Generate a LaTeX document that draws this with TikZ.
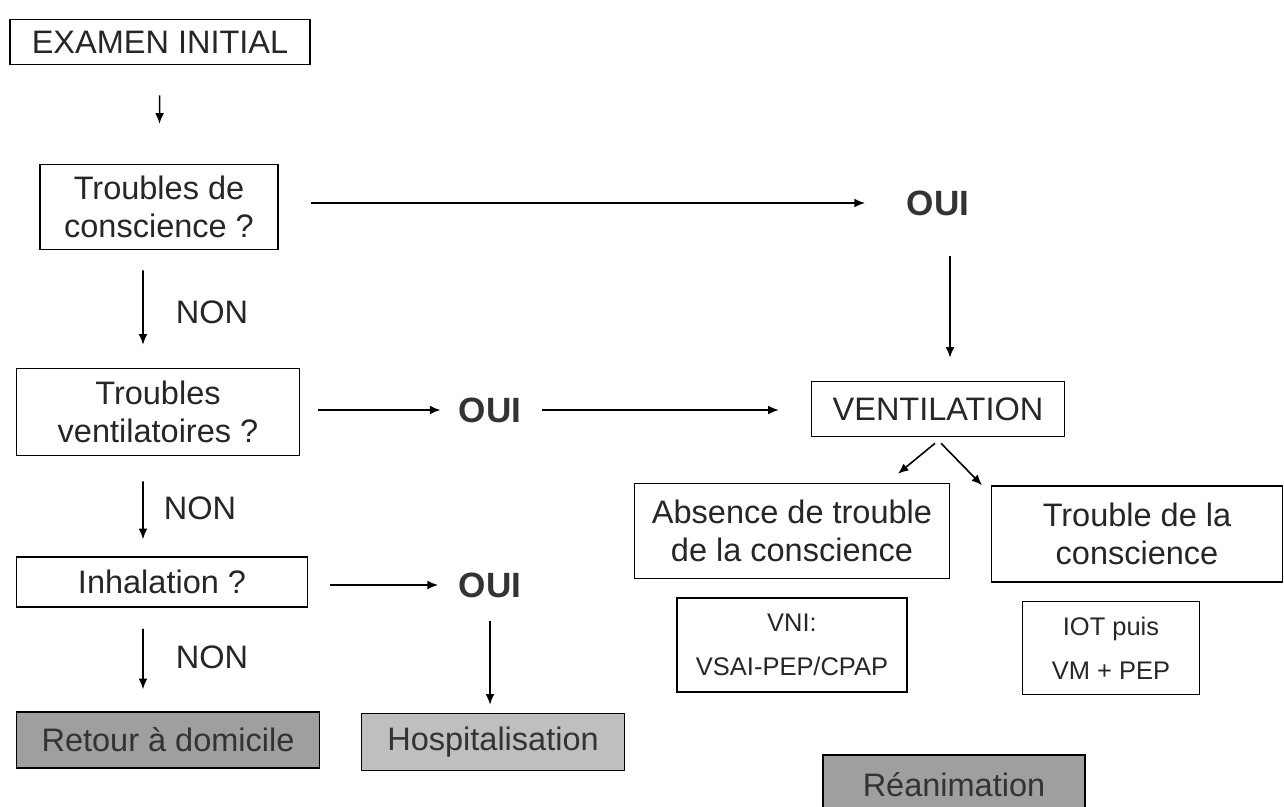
\documentclass[tikz,border=0pt]{standalone}
\usepackage{fontspec}
\setmainfont{Liberation Sans}
\usetikzlibrary{arrows.meta}

\tikzset{
  boite/.style={draw, line width=0.9pt, align=center, inner sep=0pt, text=black!85,
    font=\fontsize{18.5}{21.5}\selectfont},
  petite/.style={boite, font=\fontsize{14.5}{25}\selectfont},
  sortie/.style={boite, fill=gray!65, text=black!80},
  oui/.style={inner sep=0pt, text=black!80, font=\fontsize{20}{22}\selectfont\bfseries},
  non/.style={inner sep=0pt, text=black!85, font=\fontsize{18.5}{20}\selectfont},
}

\begin{document}
\begin{tikzpicture}[ > = {Latex[length=6pt, width=5pt]}, x=0.02cm, y=-0.02cm, line width=0.9pt]
\useasboundingbox (0,0) rectangle (1284,807);

         % colonne de gauche
         \node[boite, minimum width=6cm, minimum height=0.9cm] (ex) at (160,42) {EXAMEN INITIAL};
         \node[boite, minimum width=4.76cm, minimum height=1.7cm] (tc) at (159,207) {Troubles de\\conscience ?};
         \node[boite, minimum width=5.66cm, minimum height=1.74cm] (tv) at (158,412) {Troubles\\ventilatoires ?};
         \node[boite, minimum width=5.82cm, minimum height=1cm] (inh) at (162,582) {Inhalation ?};
         \node[sortie, fill=gray!75, minimum width=6.06cm, minimum height=1.12cm] (ret) at (168,740) {Retour \`a domicile};
         \node[sortie, fill=gray!50, minimum width=5.26cm, minimum height=1.14cm] (hosp) at (493,742) {Hospitalisation};

         \node[non] (non1) at (212,312) {NON};
         \node[non] (non2) at (200,508) {NON};
         \node[non] (non3) at (212,657) {NON};

         \node[oui] (oui1) at (938,203) {OUI};
         \node[oui] (oui2) at (490,410) {OUI};
         \node[oui] (oui3) at (490,585) {OUI};

         % colonne de droite
         \node[boite, minimum width=5.06cm, minimum height=1.1cm] (vent) at (938,409) {VENTILATION};
         \node[boite, minimum width=6.3cm, minimum height=1.9cm] (abs) at (792,531) {Absence de trouble\\de la conscience};
         \node[boite, minimum width=5.82cm, minimum height=1.92cm] (trc) at (1137,534) {Trouble de la\\conscience};
         \node[petite, minimum width=4.6cm, minimum height=1.88cm] (vni) at (792,645) {VNI:\\VSAI-PEP/CPAP};
         \node[petite, minimum width=3.54cm, minimum height=1.86cm] (iot) at (1111,648) {IOT puis\\VM + PEP};
         \node[sortie, fill=gray!75, minimum width=5.24cm, minimum height=1.2cm] (rea) at (954,785) {R\'eanimation};

         % fleches
         \draw[->, shorten <=0.6cm, shorten >=0.8cm] (ex) -- (tc);
         \draw[->, shorten <=0.64cm, shorten >=0.82cm] (tc.east |- oui1) -- (oui1.west);
         \draw[->, shorten <=0.8cm, shorten >=0.46cm] ([xshift=0.24cm]oui1.south) -- ([xshift=0.24cm]oui1.south |- vent.north);
         \draw[->, shorten <=0.4cm, shorten >=0.46cm] ([xshift=-0.32cm]tc.south) -- ([xshift=-0.3cm]tv.north);
         \draw[->, shorten <=0.36cm, shorten >=0.35cm] (tv.east |- oui2) -- (oui2.west);
         \draw[->, shorten <=0.4cm, shorten >=0.64cm] (oui2.east) -- (oui2 -| vent.west);
         \draw[->] ([shift={(-3,6)}]vent.south) -- ([shift={(106,-9)}]abs.north);
         \draw[->] ([shift={(3,6)}]vent.south) -- ([shift={(-155,0)}]trc.north);
         \draw[->, shorten <=0.5cm, shorten >=0.34cm] ([xshift=-0.3cm]tv.south) -- ([xshift=-0.38cm]inh.north);
         \draw[->, shorten <=0.44cm, shorten >=0.4cm] (inh.east |- oui3) -- (oui3.west);
         \draw[->, shorten <=0.46cm, shorten >=0.16cm] (oui3.south) -- (oui3.south |- hosp.north);
         \draw[->, shorten <=0.42cm, shorten >=0.44cm] ([xshift=-0.38cm]inh.south) -- ([xshift=-0.5cm]ret.north);

\end{tikzpicture}
\end{document}
